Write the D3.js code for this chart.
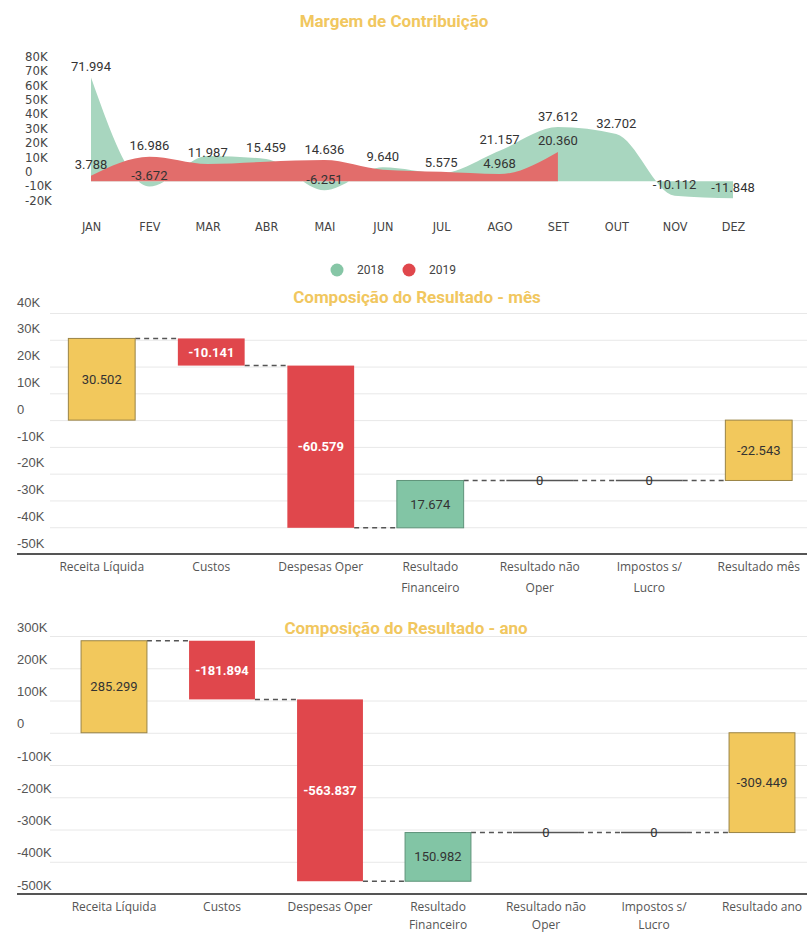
<!DOCTYPE html>
<html>
<head>
<meta charset="utf-8">
<script src="https://cdn.jsdelivr.net/npm/d3@7"></script>
<style>
body { margin: 0; background: #fff; }
svg { display: block; font-family: Roboto, "Open Sans", sans-serif; }
</style>
</head>
<body>
<div id="dash"></div>
<script>
// margem de contribuicao, por mes
var months = ["JAN", "FEV", "MAR", "ABR", "MAI", "JUN", "JUL", "AGO", "SET", "OUT", "NOV", "DEZ"];
var margem2018 = [71994, -3672, 17500, 15459, -6251, 9640, 5575, 21157, 37612, 32702, -10112, -11848];
var margem2019 = [3788, 16986, 11987, 13500, 14636, 8000, 6500, 4968, 20360];
// which point labels power bi kept (the others were hidden by overlap)
var show2018 = [true, true, false, true, true, true, true, true, true, true, true, true];
var show2019 = [true, true, true, false, true, false, false, true, true];
var margemTicks = [80000, 70000, 60000, 50000, 40000, 30000, 20000, 10000, 0, -10000, -20000];
var years = ["2018", "2019"];

// composicao do resultado
var resCats = ["Receita Líquida", "Custos", "Despesas Oper", "Resultado\nFinanceiro", "Resultado não\nOper", "Impostos s/\nLucro"];
var resKinds = ["total", "delta", "delta", "delta", "delta", "delta", "total"];
var mesValues = [30502, -10141, -60579, 17674, 0, 0, -22543];
var mesTicks = [40000, 30000, 20000, 10000, 0, -10000, -20000, -30000, -40000, -50000];
var anoValues = [285299, -181894, -563837, 150982, 0, 0, -309449];
var anoTicks = [300000, 200000, 100000, 0, -100000, -200000, -300000, -400000, -500000];

var GOLD = "#F2C85C", RED = "#E0474C", GREEN = "#82C5A5";
var TITLE = "#F1C75F";

var br = d3.formatLocale({decimal: ",", thousands: ".", grouping: [3], currency: ["R$", ""], minus: "-"});
var fmtNum = br.format(",d");
function fmtK(v) { return v === 0 ? "0" : (v / 1000) + "K"; }

function Dashboard() {
    var self = this;
    this.width = 807;
    this.height = 934;
    this.svg = d3.select("#dash").append("svg").attr("width", this.width).attr("height", this.height);

    this.title = function (text, x, y) {
        self.svg.append("text")
            .attr("x", x).attr("y", y)
            .attr("text-anchor", "middle")
            .attr("font-size", 17).attr("font-weight", "bold")
            .attr("fill", TITLE)
            .text(text);
    };

    this.margem = function () {
        var g = self.svg.append("g");
        var x = d3.scalePoint().domain(months).range([91, 733]);
        var y = d3.scaleLinear().domain([-20000, 80000]).range([210, 66]);
        var narrow = "'DejaVu Sans',sans-serif";

        var area = d3.area()
            .curve(d3.curveMonotoneX)
            .x(function (d, i) { return x(months[i]); })
            .y0(y(0))
            .y1(function (d) { return y(d); });

        g.append("path").datum(margem2018).attr("d", area).attr("fill", "#A8D6BF");
        g.append("path").datum(margem2019).attr("d", area).attr("fill", "#E26D6B");

        var yAxis = g.append("g")
            .call(d3.axisLeft(y).tickValues(margemTicks).tickSize(0).tickFormat(fmtK));
        yAxis.select(".domain").remove();
        yAxis.selectAll("text")
            .attr("x", 25).attr("dy", -5.8)
            .attr("text-anchor", "start")
            .attr("font-family", narrow).attr("font-stretch", "condensed")
            .attr("font-size", 13).attr("fill", "#444");

        var xAxis = g.append("g").attr("transform", "translate(0,227)")
            .call(d3.axisBottom(x).tickSize(0));
        xAxis.select(".domain").remove();
        xAxis.selectAll("text")
            .attr("y", 0).attr("dy", "0.32em")
            .attr("font-family", narrow).attr("font-stretch", "condensed")
            .attr("font-size", 12.5).attr("fill", "#444");

        [[margem2018, show2018], [margem2019, show2019]].forEach(function (s) {
            g.append("g").selectAll("text")
                .data(s[0].map(function (v, i) { return {v: v, i: i}; })
                    .filter(function (d) { return s[1][d.i]; }))
                .join("text")
                .attr("x", function (d) { return x(months[d.i]); })
                .attr("y", function (d) { return y(d.v) - 6.5; })
                .attr("text-anchor", "middle")
                .attr("font-size", 13).attr("fill", "#333")
                .text(function (d) { return fmtNum(d.v); });
        });

        // legend
        var lg = self.svg.append("g").attr("font-size", 12).attr("fill", "#444");
        var lx = d3.scalePoint().domain(years).range([337, 409]);
        lg.selectAll("circle").data(years).join("circle")
            .attr("cx", function (d) { return lx(d); }).attr("cy", 270).attr("r", 6.5)
            .attr("fill", function (d, i) { return i === 0 ? "#86C6A6" : RED; });
        lg.selectAll("text").data(years).join("text")
            .attr("x", function (d) { return lx(d) + 20; }).attr("y", 270).attr("dy", "0.35em")
            .text(function (d) { return d; });
    };

    this.waterfall = function (values, ticks, opt) {
        var g = self.svg.append("g");
        var cats = resCats.concat([opt.last]);
        var x = d3.scaleBand().domain(cats).range(opt.xRange).paddingInner(0.39).paddingOuter(0.195);
        var y = d3.scaleLinear().domain([ticks[ticks.length - 1], ticks[0]]).range(opt.yRange);
        var bw = x.bandwidth();

        var yAxis = g.append("g").attr("transform", "translate(50,0)")
            .call(d3.axisLeft(y).tickValues(ticks).tickSize(-(self.width - 50)).tickFormat(fmtK));
        yAxis.select(".domain").remove();
        yAxis.selectAll("line").attr("stroke", "#e8e8e8");
        yAxis.selectAll("text")
            .attr("x", 17 - 50).attr("dy", opt.labelDy)
            .attr("text-anchor", "start")
            .attr("font-size", 13).attr("fill", "#555");

        g.append("line")
            .attr("x1", 17).attr("x2", self.width)
            .attr("y1", opt.yRange[0]).attr("y2", opt.yRange[0])
            .attr("stroke", "#555").attr("stroke-width", 2);

        var xAxis = g.append("g").attr("transform", "translate(0," + opt.yRange[0] + ")")
            .call(d3.axisBottom(x).tickSize(0));
        xAxis.select(".domain").remove();
        xAxis.selectAll("text").each(function (d) {
            var t = d3.select(this).attr("y", 14).attr("dy", null)
                .attr("font-family", "'Open Sans',sans-serif").attr("font-size", 12).attr("fill", "#555")
                .attr("dominant-baseline", "middle").text(null);
            d.split("\n").forEach(function (line, k) {
                t.append("tspan").attr("x", 0).attr("y", 14 + k * opt.lineGap).text(line);
            });
        });

        var run = 0;
        var bars = values.map(function (v, i) {
            var start = resKinds[i] === "total" ? 0 : run;
            run = start + v;
            return {cat: cats[i], v: v, kind: resKinds[i], start: start, end: run};
        });

        function fill(d) { return d.kind === "total" ? GOLD : (d.v < 0 ? RED : GREEN); }
        function edge(d) { return d.kind === "total" ? "#9a8446" : (d.v < 0 ? "none" : "#5f937a"); }

        // connectors
        g.append("g").selectAll("line").data(bars.slice(0, -1)).join("line")
            .attr("x1", function (d) { return x(d.cat) + bw; })
            .attr("x2", function (d, i) { return x(cats[i + 1]); })
            .attr("y1", function (d) { return y(d.end); })
            .attr("y2", function (d) { return y(d.end); })
            .attr("stroke", "#555").attr("stroke-width", 1.5).attr("stroke-dasharray", "5,4");

        var real = bars.filter(function (d) { return d.v !== 0; });
        var zero = bars.filter(function (d) { return d.v === 0; });

        g.append("g").selectAll("rect").data(real).join("rect")
            .attr("x", function (d) { return x(d.cat); })
            .attr("width", bw)
            .attr("y", function (d) { return y(Math.max(d.start, d.end)); })
            .attr("height", function (d) { return Math.abs(y(d.start) - y(d.end)); })
            .attr("fill", fill).attr("stroke", edge).attr("stroke-width", 1);

        g.append("g").selectAll("line").data(zero).join("line")
            .attr("x1", function (d) { return x(d.cat); })
            .attr("x2", function (d) { return x(d.cat) + bw; })
            .attr("y1", function (d) { return y(d.start); })
            .attr("y2", function (d) { return y(d.start); })
            .attr("stroke", "#555").attr("stroke-width", 1.5);

        g.append("g").selectAll("text").data(bars).join("text")
            .attr("x", function (d) { return x(d.cat) + bw / 2; })
            .attr("y", function (d) { return y((d.start + d.end) / 2); })
            .attr("dy", "0.35em")
            .attr("text-anchor", "middle")
            .attr("font-size", 13)
            .attr("font-weight", function (d) { return d.kind === "delta" && d.v < 0 ? "bold" : "normal"; })
            .attr("fill", function (d) { return d.kind === "delta" && d.v < 0 ? "#fff" : "#333"; })
            .text(function (d) { return fmtNum(d.v); });
    };

    this.margem();
    this.title("Margem de Contribuição", 394, 27);
    this.waterfall(mesValues, mesTicks, {
        last: "Resultado mês", xRange: [47, 813.5], yRange: [554, 313], labelDy: -6.8, lineGap: 21
    });
    this.title("Composição do Resultado - mês", 417, 303);
    this.waterfall(anoValues, anoTicks, {
        last: "Resultado ano", xRange: [60, 816], yRange: [894, 636], labelDy: -4.8, lineGap: 18
    });
    this.title("Composição do Resultado - ano", 406, 634);
}

document.addEventListener("DOMContentLoaded", function () {
    new Dashboard();
});
</script>
</body>
</html>
